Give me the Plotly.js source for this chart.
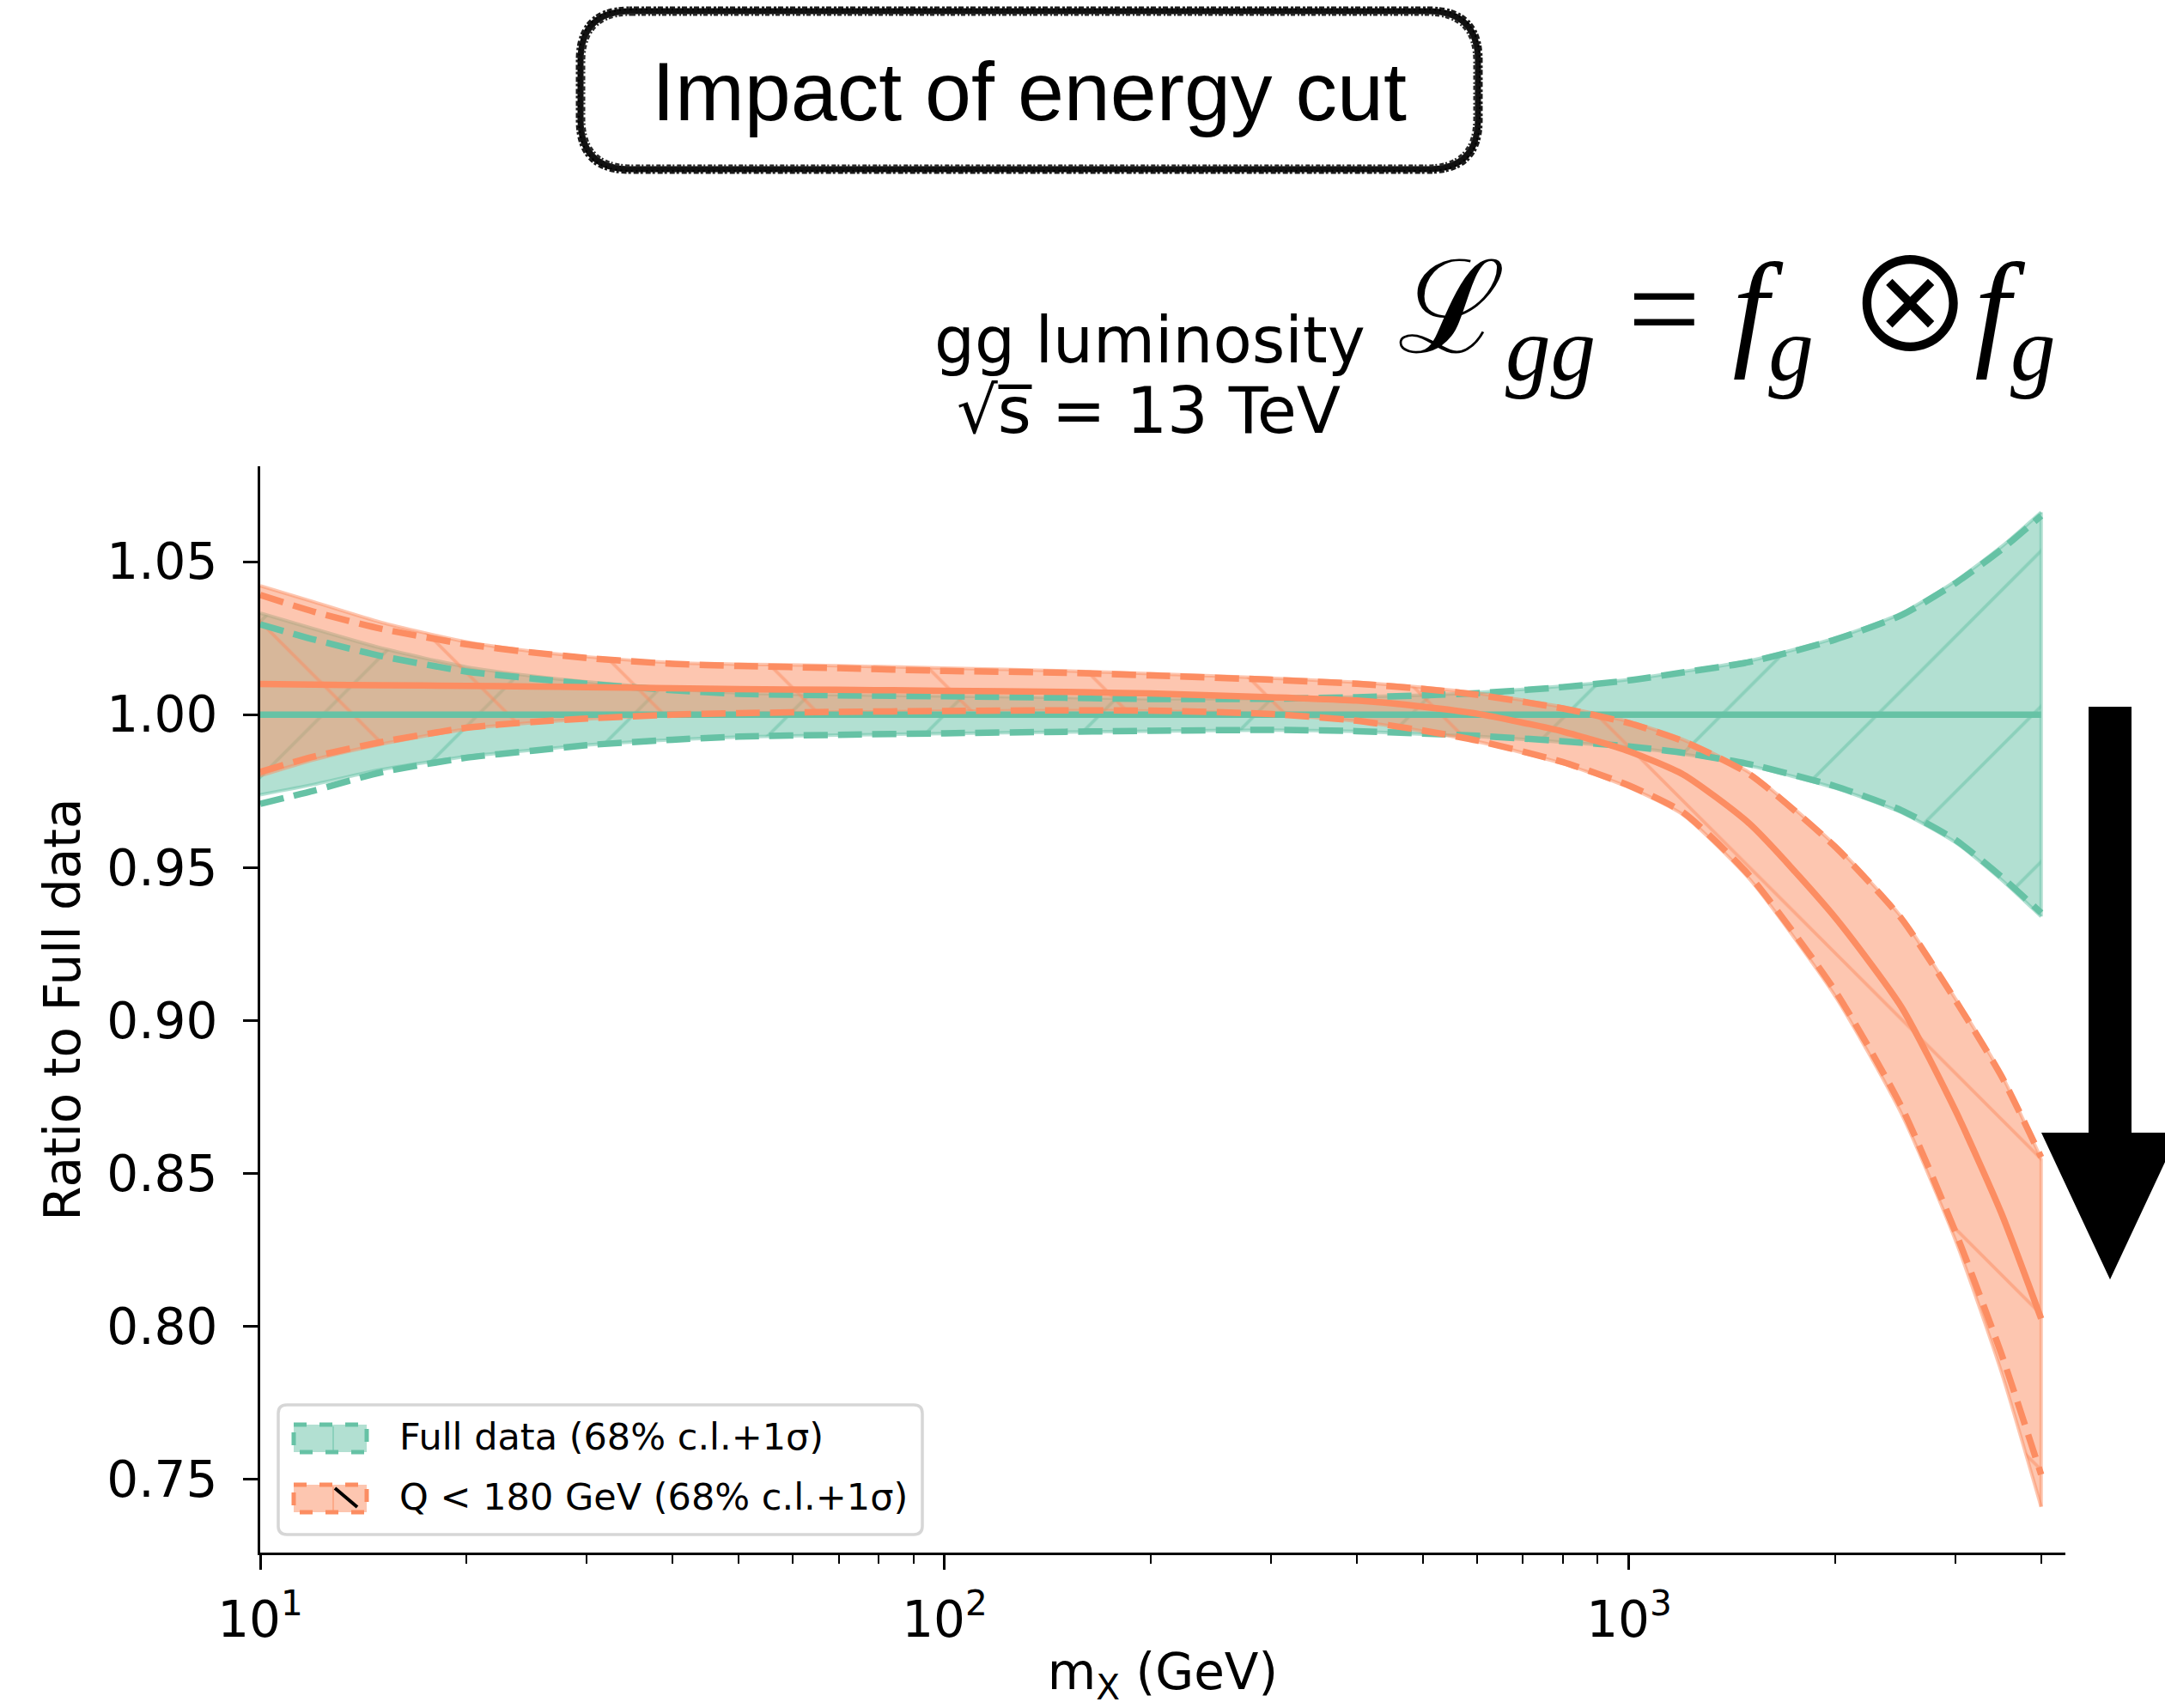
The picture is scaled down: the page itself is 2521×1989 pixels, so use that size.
<!DOCTYPE html>
<html>
<head>
<meta charset="utf-8">
<script src="https://cdn.plot.ly/plotly-3.0.1.min.js"></script>
<style>
html,body{margin:0;padding:0;background:#ffffff;}
#chart{width:2521px;height:1989px;}
</style>
</head>
<body>
<div id="chart"></div>
<script>
// ---------------- data ----------------
const mX = [10, 12, 15, 20, 25, 30, 40, 50, 70, 100, 150, 200, 300, 400, 500, 600, 800, 1000, 1200, 1500, 2000, 2500, 3000, 3500, 4000];

// Full data: central value (ratio to itself), 68% c.l. band, 1 sigma band
const fullCentral = [1.0, 1.0, 1.0, 1.0, 1.0, 1.0, 1.0, 1.0, 1.0, 1.0, 1.0, 1.0, 1.0, 1.0, 1.0, 1.0, 1.0, 1.0, 1.0, 1.0, 1.0, 1.0, 1.0, 1.0, 1.0];
const fullCLUpper = [1.0332, 1.0280, 1.0218, 1.0156, 1.0126, 1.0107, 1.0084, 1.0071, 1.0065, 1.0061, 1.0056, 1.0052, 1.0053, 1.0058, 1.0064, 1.0072, 1.0093, 1.0115, 1.0141, 1.0176, 1.0250, 1.0331, 1.0437, 1.0549, 1.0662];
const fullCLLower = [0.9738, 0.9772, 0.9820, 0.9863, 0.9884, 0.9901, 0.9918, 0.9927, 0.9933, 0.9938, 0.9943, 0.9946, 0.9949, 0.9945, 0.9936, 0.9929, 0.9910, 0.9893, 0.9871, 0.9833, 0.9760, 0.9680, 0.9582, 0.9460, 0.9340];
const fullSigmaUpper = [1.0295, 1.0245, 1.0192, 1.0141, 1.0118, 1.0101, 1.0080, 1.0068, 1.0063, 1.0060, 1.0055, 1.0051, 1.0052, 1.0057, 1.0063, 1.0070, 1.0090, 1.0112, 1.0138, 1.0172, 1.0245, 1.0325, 1.0430, 1.0540, 1.0650];
const fullSigmaLower = [0.9708, 0.9752, 0.9811, 0.9859, 0.9882, 0.9900, 0.9918, 0.9928, 0.9934, 0.9939, 0.9944, 0.9947, 0.9950, 0.9946, 0.9938, 0.9931, 0.9913, 0.9896, 0.9875, 0.9838, 0.9766, 0.9687, 0.9590, 0.9470, 0.9352];

// Q < 180 GeV
const cutCentral = [1.0100, 1.0098, 1.0096, 1.0094, 1.0092, 1.0090, 1.0086, 1.0083, 1.0081, 1.0078, 1.0074, 1.0069, 1.0057, 1.0046, 1.0026, 1.0003, 0.9945, 0.9880, 0.9804, 0.9643, 0.9337, 0.9044, 0.8704, 0.8369, 0.8025];
const cutCLUpper = [1.0421, 1.0368, 1.0302, 1.0238, 1.0207, 1.0189, 1.0170, 1.0165, 1.0160, 1.0152, 1.0143, 1.0134, 1.0119, 1.0106, 1.0089, 1.0070, 1.0025, 0.9977, 0.9918, 0.9810, 0.9573, 0.9338, 0.9070, 0.8823, 0.8548];
const cutCLLower = [0.9800, 0.9853, 0.9903, 0.9953, 0.9974, 0.9986, 0.9999, 1.0004, 1.0008, 1.0011, 1.0013, 1.0012, 1.0001, 0.9978, 0.9946, 0.9912, 0.9840, 0.9762, 0.9672, 0.9462, 0.9080, 0.8695, 0.8280, 0.7850, 0.7410];
const cutSigmaUpper = [1.0391, 1.0336, 1.0281, 1.0230, 1.0203, 1.0185, 1.0166, 1.0159, 1.0152, 1.0143, 1.0137, 1.0128, 1.0114, 1.0101, 1.0084, 1.0065, 1.0020, 0.9972, 0.9913, 0.9805, 0.9568, 0.9333, 0.9065, 0.8818, 0.8553];
const cutSigmaLower = [0.9813, 0.9863, 0.9910, 0.9957, 0.9976, 0.9987, 1.0000, 1.0005, 1.0009, 1.0012, 1.0014, 1.0013, 1.0002, 0.9980, 0.9948, 0.9915, 0.9845, 0.9768, 0.9680, 0.9473, 0.9097, 0.8718, 0.8307, 0.7909, 0.7515];

// tick labels
const xTickVals = [10, 100, 1000];
const xTickText = ['10<sup>1</sup>', '10<sup>2</sup>', '10<sup>3</sup>'];
const xMinorTickVals = [20, 30, 40, 50, 60, 70, 80, 90, 200, 300, 400, 500, 600, 700, 800, 900, 2000, 3000, 4000];
const yTickVals = [0.75, 0.80, 0.85, 0.90, 0.95, 1.00, 1.05];
const yTickText = ['0.75', '0.80', '0.85', '0.90', '0.95', '1.00', '1.05'];

// series labels
const seriesNames = ['Full data (68% c.l.+1σ)', 'Q &lt; 180 GeV (68% c.l.+1σ)'];

// ---------------- styling ----------------
const GREEN = '#66c2a5', ORANGE = '#fc8d62';
const GREEN_A = 'rgba(102,194,165,0.5)', ORANGE_A = 'rgba(252,141,98,0.5)';
const W = 2521, H = 1989, ML = 303, MR = 116, MT = 543, MB = 181;
const PW = W - ML - MR, PH = H - MT - MB;
function px(x) { return (x - ML) / PW; }
function py(y) { return (H - MB - y) / PH; }
const LW = 7.5, DASH = '28px,12px';
const SPL = {shape: 'spline', smoothing: 0.6};
const last = mX.length - 1;

function bandTraces(upper, lower, color, colorA, hatch, name) {
  return [
    {x: mX, y: lower, type: 'scatter', mode: 'lines',
      line: Object.assign({color: colorA, width: 4}, SPL),
      showlegend: false, hoverinfo: 'skip'},
    {x: mX, y: upper, type: 'scatter', mode: 'lines', fill: 'tonexty',
      fillcolor: colorA,
      fillpattern: {shape: hatch, size: 128, solidity: 0.03, fgcolor: color, fgopacity: 0.5, bgcolor: colorA},
      line: Object.assign({color: colorA, width: 4}, SPL),
      name: name, showlegend: false, hoverinfo: 'skip'},
    // closing edge of the band at the last mass point
    {x: [mX[last], mX[last]], y: [lower[last], upper[last]], type: 'scatter', mode: 'lines',
      line: {color: colorA, width: 4}, showlegend: false, hoverinfo: 'skip'}
  ];
}
function line(y, color, dash) {
  return {
    x: mX, y: y, type: 'scatter', mode: 'lines',
    line: Object.assign({color: color, width: LW, dash: dash}, SPL),
    showlegend: false, hoverinfo: 'skip'
  };
}

const traces = [].concat(
  bandTraces(fullCLUpper, fullCLLower, GREEN, GREEN_A, '/', seriesNames[0]),
  bandTraces(cutCLUpper, cutCLLower, ORANGE, ORANGE_A, '\\', seriesNames[1]),
  [
    line(fullCentral, GREEN, 'solid'),
    line(fullSigmaUpper, GREEN, DASH),
    line(fullSigmaLower, GREEN, DASH),
    line(cutCentral, ORANGE, 'solid'),
    line(cutSigmaUpper, ORANGE, DASH),
    line(cutSigmaLower, ORANGE, DASH)
  ]
);

// rounded rectangle path in paper coords from pixel coords
function rrect(x0, y0, x1, y1, r) {
  const X = px, Y = py;
  return 'M' + X(x0 + r) + ',' + Y(y0) +
    ' L' + X(x1 - r) + ',' + Y(y0) +
    ' Q' + X(x1) + ',' + Y(y0) + ' ' + X(x1) + ',' + Y(y0 + r) +
    ' L' + X(x1) + ',' + Y(y1 - r) +
    ' Q' + X(x1) + ',' + Y(y1) + ' ' + X(x1 - r) + ',' + Y(y1) +
    ' L' + X(x0 + r) + ',' + Y(y1) +
    ' Q' + X(x0) + ',' + Y(y1) + ' ' + X(x0) + ',' + Y(y1 - r) +
    ' L' + X(x0) + ',' + Y(y0 + r) +
    ' Q' + X(x0) + ',' + Y(y0) + ' ' + X(x0 + r) + ',' + Y(y0) + ' Z';
}
function poly(pts) {
  return pts.map((p, i) => (i ? 'L' : 'M') + px(p[0]) + ',' + py(p[1])).join(' ') + ' Z';
}
function seg(x0, y0, x1, y1, color, width, dash) {
  return {type: 'line', xref: 'paper', yref: 'paper', x0: px(x0), y0: py(y0), x1: px(x1), y1: py(y1),
    line: {color: color, width: width, dash: dash || 'solid'}, layer: 'above'};
}
function frame(x0, y0, x1, y1, r, color, width, dash) {
  return {type: 'path', xref: 'paper', yref: 'paper', path: rrect(x0, y0, x1, y1, r),
    line: {color: color, width: width, dash: dash || 'solid'}, fillcolor: 'rgba(0,0,0,0)', layer: 'above'};
}

const shapes = [
  // hand-drawn (sketchy) title frame
  frame(676, 13, 1721, 197, 58, '#111111', 7),
  frame(672, 9, 1725, 201, 61, '#1a1a1a', 3, '3px,2px,6px,3px'),
  frame(680, 17, 1717, 193, 55, '#2a2a2a', 3, '5px,3px,2px,2px'),
  frame(674, 11, 1723, 199, 60, '#000000', 2, '2px,4px'),
  // big downward arrow
  {type: 'path', xref: 'paper', yref: 'paper',
    path: poly([[2432, 823], [2482, 823], [2482, 1319], [2537, 1319], [2457, 1490], [2377, 1319], [2432, 1319]]),
    fillcolor: '#000000', line: {width: 0}, layer: 'above'},
  // legend frame
  {type: 'path', xref: 'paper', yref: 'paper', path: rrect(324, 1636, 1074, 1787, 10),
    line: {color: '#d6d6d6', width: 3.5}, fillcolor: 'rgba(255,255,255,0.8)', layer: 'above'},
  // legend patches
  {type: 'rect', xref: 'paper', yref: 'paper', x0: px(342), x1: px(427), y0: py(1659), y1: py(1691),
    fillcolor: GREEN_A, line: {color: GREEN, width: 5, dash: 'dash'}, layer: 'above'},
  seg(388, 1661, 388, 1689, GREEN_A, 2),
  {type: 'rect', xref: 'paper', yref: 'paper', x0: px(342), x1: px(427), y0: py(1729), y1: py(1761),
    fillcolor: ORANGE_A, line: {color: ORANGE, width: 5, dash: 'dash'}, layer: 'above'},
  seg(388, 1731, 388, 1759, ORANGE_A, 2),
  seg(390, 1733, 416, 1755, '#000000', 4)
];

const annotations = [
  {text: 'Impact of energy cut', x: px(1198), y: py(106), xref: 'paper', yref: 'paper',
    xanchor: 'center', yanchor: 'middle', showarrow: false,
    font: {family: 'Liberation Sans, Arial, sans-serif', size: 97, color: '#000000'}},
  {text: 'gg luminosity', x: px(1339), y: py(396), xref: 'paper', yref: 'paper',
    xanchor: 'center', yanchor: 'middle', showarrow: false,
    font: {family: 'DejaVu Sans', size: 74, color: '#000000'}},
  {text: '√s\u0305 = 13 TeV', x: px(1337), y: py(478), xref: 'paper', yref: 'paper',
    xanchor: 'center', yanchor: 'middle', showarrow: false,
    font: {family: 'DejaVu Sans', size: 75, color: '#000000'}},
  {text: 'ℒ<sub><i>gg</i></sub> = <i>f</i><sub><i>g</i></sub> <span style="font-family:\'Noto Sans CJK JP\'">⊗</span><i>f</i><sub><i>g</i></sub>',
    x: px(1626), y: py(350), xref: 'paper', yref: 'paper',
    xanchor: 'left', yanchor: 'middle', showarrow: false,
    font: {family: 'Liberation Serif, DejaVu Serif, serif', size: 150, color: '#000000'}},
  {text: seriesNames[0], x: px(463), y: py(1673), xref: 'paper', yref: 'paper',
    xanchor: 'left', yanchor: 'middle', showarrow: false,
    font: {family: 'DejaVu Sans', size: 43, color: '#000000'}},
  {text: seriesNames[1], x: px(463), y: py(1743), xref: 'paper', yref: 'paper',
    xanchor: 'left', yanchor: 'middle', showarrow: false,
    font: {family: 'DejaVu Sans', size: 43, color: '#000000'}}
];

const layout = {
  width: W, height: H,
  margin: {l: ML, r: MR, t: MT, b: MB, pad: 0},
  paper_bgcolor: '#ffffff', plot_bgcolor: '#ffffff',
  font: {family: 'DejaVu Sans', size: 58, color: '#000000'},
  showlegend: false,
  xaxis: {
    type: 'log', range: [1, Math.log10(4340)],
    tickmode: 'array', tickvals: xTickVals, ticktext: xTickText,
    ticks: 'outside', ticklen: 17, tickwidth: 3, tickcolor: '#000000',
    minor: {tickmode: 'array', tickvals: xMinorTickVals, ticks: 'outside', ticklen: 10, tickwidth: 2, tickcolor: '#000000', showgrid: false},
    showline: true, linewidth: 3, linecolor: '#000000', mirror: false,
    showgrid: false, zeroline: false,
    tickfont: {family: 'DejaVu Sans', size: 58, color: '#000000'},
    ticklabelstandoff: 8,
    title: {text: 'm<sub>X</sub> (GeV)', font: {family: 'DejaVu Sans', size: 58, color: '#000000'}, standoff: 26}
  },
  yaxis: {
    range: [0.726, 1.0812],
    tickmode: 'array', tickvals: yTickVals, ticktext: yTickText,
    ticks: 'outside', ticklen: 17, tickwidth: 3, tickcolor: '#000000',
    showline: true, linewidth: 3, linecolor: '#000000', mirror: false,
    showgrid: false, zeroline: false,
    tickfont: {family: 'DejaVu Sans', size: 58, color: '#000000'},
    ticklabelstandoff: 18,
    title: {text: 'Ratio to Full data', font: {family: 'DejaVu Sans', size: 58, color: '#000000'}, standoff: 12}
  },
  shapes: shapes,
  annotations: annotations
};

Plotly.newPlot('chart', traces, layout, {displayModeBar: false, staticPlot: true});
</script>
</body>
</html>
